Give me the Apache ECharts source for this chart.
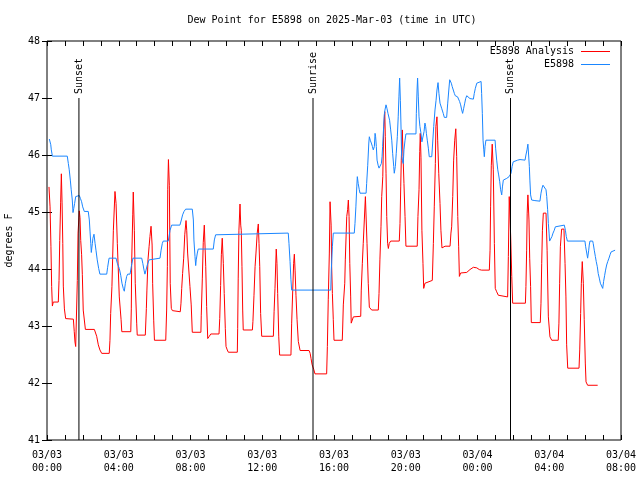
<!DOCTYPE html>
<html><head><meta charset="utf-8">
<script src="https://cdn.jsdelivr.net/npm/echarts@6/dist/echarts.min.js"></script>
<style>html,body{margin:0;padding:0;background:#fff}#c{width:640px;height:480px}</style>
</head><body><div id="c"></div>
<script>
// hours since 2025-03-03 00:00 UTC
const analysisHours = [0.11,0.17,0.22,0.26,0.30,0.35,0.63,0.67,0.71,0.76,0.80,0.84,0.88,0.91,0.97,1.04,1.47,1.52,1.56,1.60,1.66,1.69,1.73,1.80,1.84,1.88,1.93,1.97,2.02,2.14,2.64,2.77,2.86,2.95,3.05,3.47,3.51,3.55,3.62,3.70,3.79,3.85,3.92,4.03,4.13,4.17,
4.67,4.70,4.72,4.78,4.81,4.87,4.92,5.00,5.03,5.48,5.54,5.57,5.63,5.69,5.74,5.80,5.86,5.89,5.95,5.99,6.62,6.67,6.71,6.73,6.77,6.82,6.87,6.93,6.99,7.08,7.43,7.47,7.51,7.56,7.62,7.68,7.75,7.79,7.84,7.97,8.04,8.10,8.58,8.60,8.66,8.71,8.77,8.85,8.90,8.96,9.05,9.13,9.59,9.63,9.68,9.72,9.77,9.83,9.88,9.94,9.98,10.05,10.11,10.61,10.63,10.66,10.70,10.76,10.80,10.83,10.87,10.91,10.94,11.45,11.48,11.54,11.60,11.65,11.72,11.78,11.82,11.86,11.91,11.97,12.62,12.66,12.71,12.75,12.78,12.82,12.86,12.92,12.97,13.60,13.64,13.70,13.75,13.79,13.83,13.88,13.94,14.01,14.11,14.61,14.67,14.72,14.78,14.87,14.94,15.59,15.63,15.68,15.74,15.78,15.84,15.87,15.91,15.96,16.00,16.46,16.48,16.52,16.60,16.63,16.71,16.76,16.80,16.84,16.88,16.93,16.96,17.02,17.08,17.17,17.49,17.52,17.58,17.63,17.69,17.75,17.78,17.84,17.91,17.97,18.10,18.47,18.51,18.56,18.62,18.66,18.72,18.77,18.83,18.86,18.90,18.94,18.99,19.03,19.08,19.16,19.64,19.68,19.72,19.75,19.81,19.85,19.90,19.96,20.01,20.64,20.68,20.74,20.78,20.81,20.85,20.90,20.96,21.00,21.07,21.17,21.48,21.54,21.59,21.65,21.68,21.74,21.78,21.84,21.91,21.96,22.02,22.19,22.47,22.52,22.56,22.62,22.67,22.73,22.79,22.84,22.90,22.95,22.99,23.06,23.12,23.40,23.58,23.77,23.96,24.10,24.23,24.66,24.70,24.73,24.77,24.82,24.88,24.94,24.99,25.07,25.16,25.25,25.68,25.72,25.77,25.83,25.85,25.91,25.96,26.67,26.70,26.74,26.77,26.81,26.87,26.91,26.96,27.00,27.50,27.54,27.58,27.62,27.67,27.82,27.88,27.95,28.04,28.14,28.50,28.54,28.58,28.62,28.69,28.82,28.88,28.93,28.97,29.03,29.66,29.70,29.75,29.79,29.84,29.90,29.95,30.01,30.05,30.14,30.70];
const analysisValues = [45.44,45.09,44.39,43.69,43.35,43.42,43.42,43.80,44.50,45.16,45.67,45.16,44.45,43.70,43.30,43.13,43.12,42.90,42.72,42.64,42.63,43.80,44.63,45.02,44.90,44.50,44.25,43.90,43.28,42.94,42.94,42.82,42.67,42.58,42.52,42.52,42.75,43.22,43.69,44.68,45.36,45.15,44.45,43.51,43.11,42.90,
42.90,43.30,44.10,44.95,45.35,44.68,43.75,43.05,42.84,42.84,43.31,43.63,44.16,44.39,44.57,44.75,44.42,43.75,43.09,42.75,42.75,43.28,44.04,45.39,45.92,45.47,43.75,43.31,43.27,43.25,43.25,43.40,43.66,43.92,44.19,44.60,44.85,44.68,44.28,43.69,43.37,42.89,42.89,43.19,43.84,44.46,44.77,44.04,43.34,42.78,42.82,42.86,42.86,43.13,43.71,44.25,44.54,44.10,43.57,42.96,42.64,42.58,42.54,42.54,42.96,43.84,44.68,45.14,44.77,44.68,44.04,43.28,42.93,42.93,43.08,43.54,44.04,44.28,44.63,44.79,44.45,44.04,43.22,42.82,42.82,43.25,43.66,44.07,44.35,44.10,43.57,42.81,42.49,42.49,43.05,43.63,44.10,44.26,43.98,43.54,43.11,42.73,42.57,42.57,42.52,42.43,42.32,42.24,42.16,42.16,42.64,43.46,44.28,45.18,44.77,44.04,43.57,43.11,42.75,42.75,42.93,43.37,43.75,44.16,44.92,45.04,45.21,44.92,44.10,43.51,43.05,43.08,43.16,43.17,43.17,43.63,44.10,44.45,44.86,45.27,45.30,44.45,43.75,43.33,43.28,43.28,43.57,44.16,44.74,45.27,45.62,46.44,46.76,46.32,45.68,44.92,44.45,44.36,44.45,44.49,44.49,44.80,45.44,45.91,46.44,45.97,45.50,44.92,44.40,44.40,44.92,45.39,46.06,46.38,45.95,44.68,44.10,43.66,43.75,43.78,43.80,44.45,45.09,45.85,46.50,46.67,46.26,45.68,45.15,44.68,44.37,44.40,44.40,44.63,44.74,45.27,45.91,46.26,46.46,45.97,44.92,44.39,43.87,43.93,43.94,43.94,43.99,44.03,44.02,43.99,43.98,43.98,44.33,45.09,45.82,46.19,45.74,44.45,43.66,43.60,43.54,43.51,43.51,44.22,45.27,45.27,44.57,43.87,43.40,43.40,43.69,44.33,44.98,45.30,44.86,44.19,43.69,43.06,43.06,43.40,44.10,44.68,44.98,44.98,44.33,43.16,42.81,42.75,42.75,43.05,43.75,44.39,44.70,44.70,44.10,43.51,42.67,42.26,42.26,42.58,43.22,43.75,44.13,43.75,43.11,42.35,42.02,41.96,41.96];

const stationHours = [0.13,0.21,0.24,0.30,1.13,1.19,1.24,1.30,1.35,1.41,1.45,1.49,1.54,1.60,1.66,1.80,1.86,1.93,1.99,2.08,2.30,2.36,2.40,2.44,2.47,2.53,2.56,2.62,2.68,2.73,2.80,2.88,2.95,3.33,3.38,3.46,3.85,3.92,4.03,4.11,4.18,4.25,4.31,4.37,4.44,4.50,4.63,4.70,4.79,5.28,5.34,5.41,5.46,5.52,5.59,5.69,5.80,6.30,6.36,6.43,6.48,6.76,6.86,6.95,7.41,7.49,7.56,7.64,7.73,8.10,8.16,8.19,8.25,8.29,8.32,8.38,8.43,9.27,9.33,9.40,9.46,13.45,13.49,13.55,13.60,13.64,15.82,15.85,15.91,15.96,17.13,17.17,17.22,17.27,17.30,17.35,17.41,17.45,17.79,17.82,17.88,17.94,17.97,18.02,18.08,18.14,18.19,18.25,18.29,18.32,18.36,18.40,18.46,18.51,18.56,18.64,18.68,18.71,18.77,18.80,18.84,18.90,18.95,19.01,19.07,19.10,19.16,19.22,19.27,19.33,19.36,19.42,19.47,19.53,19.58,19.62,19.66,19.70,19.74,19.77,19.81,19.86,19.90,19.96,20.01,20.57,20.59,20.63,20.66,20.70,20.74,20.79,20.85,20.90,20.96,21.02,21.07,21.11,21.15,21.20,21.26,21.31,21.45,21.50,21.56,21.63,21.69,21.74,21.80,21.85,21.91,22.00,22.09,22.15,22.28,22.34,22.40,22.45,22.48,22.54,22.59,22.65,22.71,22.76,22.89,22.94,23.00,23.06,23.12,23.17,23.23,23.29,23.34,23.40,23.49,23.58,23.67,23.77,23.82,23.88,23.96,24.01,24.20,24.23,24.27,24.31,24.35,24.38,24.42,24.47,24.98,25.01,25.07,25.13,25.18,25.24,25.29,25.35,25.39,25.44,25.50,25.63,25.76,25.82,25.87,25.93,25.99,26.09,26.24,26.37,26.65,26.70,26.76,26.81,26.85,26.89,26.92,26.96,27.02,27.20,27.48,27.54,27.60,27.65,27.76,27.82,27.86,27.91,27.95,27.99,28.02,28.10,28.15,28.21,28.28,28.34,28.39,28.84,28.90,28.95,29.01,29.99,30.03,30.09,30.14,30.20,30.23,30.27,30.42,30.45,30.51,30.57,30.62,30.68,30.73,30.79,30.85,30.98,31.03,31.09,31.14,31.20,31.26,31.33,31.39,31.45,31.50,31.67];
const stationValues = [46.28,46.18,46.09,45.98,45.98,45.85,45.74,45.56,45.39,45.21,44.99,45.06,45.15,45.27,45.29,45.29,45.24,45.18,45.09,45.01,45.01,44.86,44.65,44.45,44.29,44.45,44.54,44.61,44.45,44.33,44.16,44.01,43.91,43.91,44.03,44.19,44.19,44.10,44.01,43.89,43.75,43.66,43.61,43.75,43.87,43.91,43.91,44.04,44.19,44.19,44.10,43.98,43.91,43.98,44.07,44.16,44.19,44.19,44.33,44.45,44.49,44.49,44.68,44.77,44.77,44.86,44.95,45.01,45.05,45.05,44.86,44.51,44.22,44.06,44.16,44.28,44.35,44.35,44.51,44.60,44.63,44.63,44.45,44.13,43.81,43.63,43.63,43.98,44.39,44.63,44.63,44.80,45.09,45.44,45.62,45.50,45.39,45.33,45.33,45.50,45.82,46.21,46.32,46.26,46.21,46.15,46.09,46.15,46.38,46.32,46.15,45.91,45.82,45.77,45.79,45.85,45.97,46.15,46.50,46.70,46.79,46.88,46.82,46.73,46.70,46.61,46.44,46.26,46.03,45.80,45.68,45.80,46.03,46.32,46.67,47.02,47.35,46.96,46.44,45.97,45.91,45.85,46.09,46.26,46.37,46.37,46.73,47.14,47.35,47.02,46.67,46.50,46.38,46.23,46.26,46.41,46.56,46.50,46.38,46.26,46.12,45.97,45.97,46.21,46.50,46.79,46.96,47.14,47.27,47.08,46.91,46.82,46.73,46.66,46.66,46.91,47.14,47.32,47.35,47.26,47.20,47.14,47.08,47.04,47.02,46.99,46.94,46.88,46.79,46.73,46.82,46.91,46.99,47.04,47.02,46.99,46.98,46.98,47.08,47.17,47.26,47.29,47.29,47.08,46.73,46.26,46.09,45.97,46.15,46.26,46.26,46.12,45.91,45.74,45.65,45.53,45.39,45.30,45.44,45.56,45.59,45.59,45.62,45.65,45.68,45.80,45.88,45.88,45.91,45.92,45.91,46.00,46.09,46.19,46.00,45.80,45.56,45.30,45.21,45.20,45.19,45.33,45.42,45.47,45.47,45.39,45.27,45.04,44.80,44.63,44.49,44.49,44.57,44.63,44.68,44.74,44.77,44.77,44.68,44.57,44.49,44.49,44.39,44.28,44.19,44.33,44.42,44.49,44.49,44.45,44.33,44.22,44.13,44.04,43.92,43.84,43.75,43.66,43.78,43.89,43.98,44.07,44.13,44.19,44.25,44.30,44.33,44.33];

const sunEventHours = [1.78, 14.83, 25.84];
const sunEventLabels = ['Sunset', 'Sunrise', 'Sunset'];
const xTickLabels = ['03/03\n00:00','03/03\n04:00','03/03\n08:00','03/03\n12:00','03/03\n16:00','03/03\n20:00','03/04\n00:00','03/04\n04:00','03/04\n08:00'];
const seriesNames = ['E5898 Analysis', 'E5898'];

const FONT = '"DejaVu Sans Mono", "Liberation Mono", monospace';
const chart = echarts.init(document.getElementById('c'), null, {renderer: 'canvas'});
const pair = (xs, ys) => xs.map((x, i) => [x, ys[i]]);
const tickCommon = {show: true, inside: true, length: 5, lineStyle: {color: '#000', width: 1}};
const minorCommon = {show: true, splitNumber: 4, length: 5, lineStyle: {color: '#000', width: 1}};

chart.setOption({
  animation: false,
  backgroundColor: '#fff',
  title: {
    text: 'Dew Point for E5898 on 2025-Mar-03 (time in UTC)',
    left: 327, top: 10, textAlign: 'center',
    textStyle: {fontFamily: FONT, fontSize: 10, fontWeight: 'normal', color: '#000'}
  },
  legend: {
    data: seriesNames.map(n => ({name: n, icon: 'rect'})),
    orient: 'vertical', right: 25, top: 40, align: 'right',
    itemWidth: 29, itemHeight: 1, itemGap: 0,
    textStyle: {fontFamily: FONT, fontSize: 10, color: '#000', lineHeight: 13, padding: [0, 2, 0, 0]}
  },
  grid: {left: 47, right: 19, top: 41, bottom: 40, show: true, borderColor: '#000', borderWidth: 1,
    backgroundColor: 'transparent', containLabel: false, outerBoundsMode: 'none'},
  xAxis: [{
    type: 'value', min: 0, max: 32, interval: 4, position: 'bottom',
    axisLine: {show: false}, splitLine: {show: false},
    axisTick: tickCommon, minorTick: minorCommon,
    axisLabel: {fontFamily: FONT, fontSize: 10, color: '#000', lineHeight: 13, margin: 9,
      formatter: v => xTickLabels[Math.round(v / 4)]}
  }, {
    type: 'value', min: 0, max: 32, interval: 4, position: 'top',
    axisLine: {show: false}, splitLine: {show: false},
    axisTick: tickCommon, minorTick: minorCommon, axisLabel: {show: false}
  }],
  yAxis: [{
    type: 'value', min: 41, max: 48, interval: 1, position: 'left',
    name: 'degrees F', nameLocation: 'middle', nameGap: 33, nameRotate: 90,
    nameTextStyle: {fontFamily: FONT, fontSize: 10, color: '#000'},
    axisLine: {show: false}, splitLine: {show: false}, axisTick: tickCommon,
    axisLabel: {fontFamily: FONT, fontSize: 10, color: '#000', margin: 7}
  }, {
    type: 'value', min: 41, max: 48, interval: 1, position: 'right',
    axisLine: {show: false}, splitLine: {show: false}, axisTick: tickCommon, axisLabel: {show: false}
  }],
  series: [{
    name: seriesNames[0], type: 'line', data: pair(analysisHours, analysisValues),
    symbol: 'none', showSymbol: false, lineStyle: {color: '#ff0000', width: 1}, itemStyle: {color: '#ff0000'}, z: 2
  }, {
    name: seriesNames[1], type: 'line', data: pair(stationHours, stationValues),
    symbol: 'none', showSymbol: false, lineStyle: {color: '#1a86ff', width: 1}, itemStyle: {color: '#1a86ff'}, z: 3
  }, {
    name: 'sun', type: 'custom', z: 4, silent: true,
    data: sunEventHours.map((h, i) => [h, i]),
    renderItem: (params, api) => {
      const h = api.value(0);
      const idx = api.value(1);
      const p0 = api.coord([h, 41]);
      const p1 = api.coord([h, 47]);
      return {type: 'group', children: [
        {type: 'line', shape: {x1: p0[0], y1: p0[1], x2: p1[0], y2: p1[1]}, style: {stroke: '#000', lineWidth: 1}},
        {type: 'text', x: p1[0], y: p1[1] - 4, rotation: Math.PI / 2,
          style: {text: sunEventLabels[idx], font: '10px ' + FONT, fill: '#000', align: 'left', verticalAlign: 'middle'}}
      ]};
    }
  }]
});
</script>
</body></html>
